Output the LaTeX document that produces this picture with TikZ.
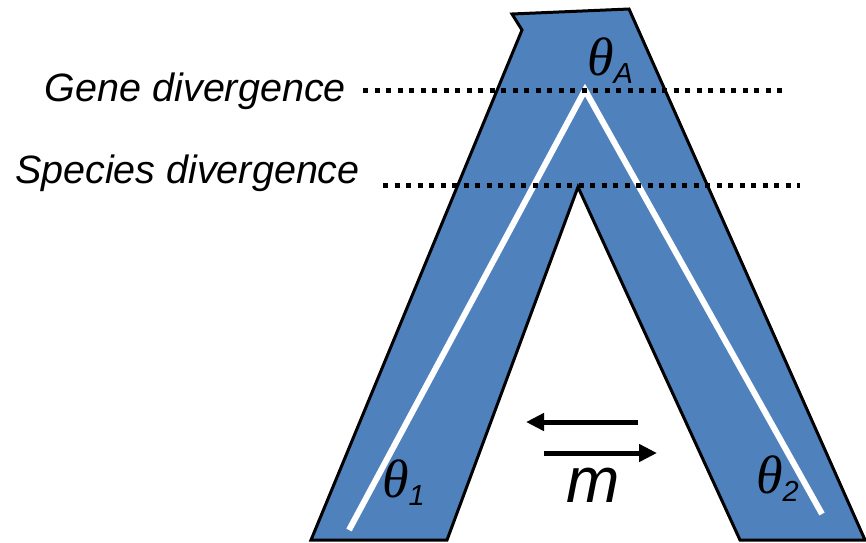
\documentclass[tikz,border=0pt]{standalone}
\usepackage{fontspec}
\setsansfont{Liberation Sans}
\newfontfamily\thetafont{Liberation Serif}
\usetikzlibrary{arrows.meta, positioning}
\definecolor{treeBlue}{HTML}{4F81BD}

\newcommand{\popsize}[1]{{\thetafont\itshape θ}\raisebox{-8pt}{\fontsize{29}{29}\selectfont\sffamily\itshape #1}}

\begin{document}
\begin{tikzpicture}[x=1pt, y=-1pt,
    label/.style={inner sep=0pt, font=\fontsize{39.5}{40}\selectfont\sffamily\itshape},
    theta/.style={inner sep=0pt, anchor=base west, font=\fontsize{54}{54}\selectfont},
    timeline/.style={line width=5pt, dash pattern=on 5pt off 6.5pt},
    gene/.style={white, line width=6pt, line join=miter},
    flow/.style={-{Triangle[length=18pt, width=17pt]}, line width=5pt},
]
    \useasboundingbox (0,0) rectangle (866,542);

    % species tree
    \draw[line width=3pt, line join=miter, fill=treeBlue]
        (512,14) -- (629,9) -- (865,540) -- (740,540) -- (578,187)
        -- (447,540) -- (311,540) -- (522,30) -- cycle;

    % gene tree
    \coordinate (leaf1) at (349,530);
    \coordinate (root) at (585,90);
    \coordinate (leaf2) at (822,514);
    \draw[gene] (leaf1) -- (root) -- (leaf2);

    % divergence times
    \node[label, anchor=base east] (genediv) at (346,101) {Gene divergence};
    \node[label, anchor=base east] (specdiv) at (360,183) {Species divergence};
    \coordinate (geneend) at (783,90);
    \coordinate (specend) at (800,185);
    \draw[timeline] (363,90) -- (geneend);
    \draw[timeline] (383,185) -- (specend);

    % population sizes
    \node[theta] (thetaA) at (587,75) {\popsize{A}};
    \node[theta] (theta1) at (382,497) {\popsize{1}};
    \node[theta] (theta2) at (756,493) {\popsize{2}};

    % migration
    \coordinate (migL1) at (526,422);
    \coordinate (migR1) at (638,422);
    \coordinate (migL2) at (544,453);
    \coordinate (migR2) at (657,453);
    \draw[flow] (migR1) -- (migL1);
    \draw[flow] (migL2) -- (migR2);
    \node[inner sep=0pt, anchor=base, font=\fontsize{64}{64}\selectfont\sffamily\itshape] (mig) at (593,502) {m};
\end{tikzpicture}
\end{document}
